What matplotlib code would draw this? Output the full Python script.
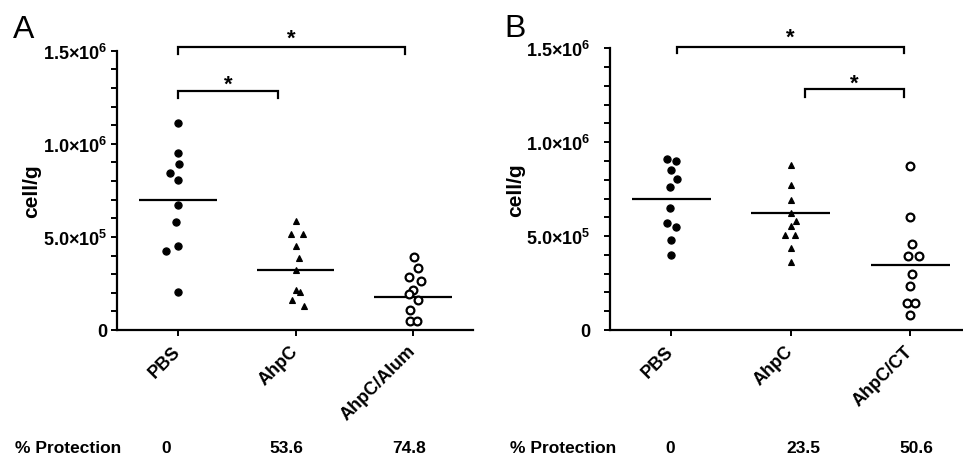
import matplotlib
matplotlib.use("Agg")
import matplotlib.pyplot as plt
from matplotlib.ticker import MultipleLocator, FixedLocator
import numpy as np

plt.rcParams['font.family'] = ['Liberation Sans', 'DejaVu Sans']
plt.rcParams['font.weight'] = 'bold'
plt.rcParams['mathtext.fontset'] = 'custom'
plt.rcParams['mathtext.rm'] = 'Liberation Sans:bold'
plt.rcParams['mathtext.bf'] = 'Liberation Sans:bold'
plt.rcParams['mathtext.it'] = 'Liberation Sans:bold:italic'

# ---------------- data ----------------
groups_A = ["PBS", "AhpC", "AhpC/Alum"]
groups_B = ["PBS", "AhpC", "AhpC/CT"]

A_pbs = [1.111e6, 0.953e6, 0.892e6, 0.842e6, 0.803e6, 0.670e6, 0.581e6, 0.452e6, 0.423e6, 0.203e6]
A_ahpc = [0.587e6, 0.517e6, 0.517e6, 0.449e6, 0.387e6, 0.324e6, 0.215e6, 0.203e6, 0.160e6, 0.129e6]
A_alum = [0.390e6, 0.331e6, 0.283e6, 0.265e6, 0.215e6, 0.195e6, 0.161e6, 0.109e6, 0.048e6, 0.048e6]
A_means = [0.699e6, 0.324e6, 0.177e6]

B_pbs = [0.909e6, 0.898e6, 0.852e6, 0.806e6, 0.760e6, 0.651e6, 0.568e6, 0.550e6, 0.479e6, 0.401e6]
B_ahpc = [0.879e6, 0.774e6, 0.694e6, 0.621e6, 0.579e6, 0.554e6, 0.506e6, 0.506e6, 0.435e6, 0.364e6]
B_ct = [0.872e6, 0.600e6, 0.458e6, 0.394e6, 0.394e6, 0.300e6, 0.233e6, 0.145e6, 0.145e6, 0.078e6]
B_means = [0.698e6, 0.623e6, 0.346e6]

protection_A = ["0", "53.6", "74.8"]
protection_B = ["0", "23.5", "50.6"]

ytick_vals = [0, 5e5, 1e6, 1.5e6]
ytick_labels = ["0", r"$5.0{\times}10^{5}$", r"$1.0{\times}10^{6}$", r"$1.5{\times}10^{6}$"]

# horizontal scatter offsets (jitter)
jit_A = [
    [0, 0, 0.01, -0.065, 0, 0, -0.02, 0, -0.10, 0],
    [0, -0.037, 0.065, 0, 0.028, 0, 0, 0.037, -0.034, 0.071],
    [0.006, 0.045, -0.037, 0.065, 0, -0.031, 0.04, -0.028, -0.028, 0.037],
]
jit_B = [
    [-0.036, 0.042, 0, 0.047, -0.008, -0.008, -0.031, 0.042, 0, 0],
    [0, 0, 0, 0, 0.047, 0, -0.045, 0.039, 0, 0],
    [0, 0, 0.017, -0.02, 0.072, 0.01, 0, -0.028, 0.036, 0],
]

W, H = 963, 456
fig = plt.figure(figsize=(W / 100, H / 100), dpi=100)

axA = fig.add_axes([117 / W, 1 - 331 / H, 356 / W, 279.3 / H])
axB = fig.add_axes([610 / W, 1 - 331 / H, 353 / W, 281.7 / H])

markers = [
    dict(marker='o', ms=5.2, mfc='black', mec='black', mew=0.8),
    dict(marker='^', ms=5.0, mfc='black', mec='black', mew=0.8),
    dict(marker='o', ms=5.6, mfc='white', mec='black', mew=1.6),
]


def draw_panel(ax, series, jit, means, names, xlim, ypad):
    for i, (vals, jj, mk) in enumerate(zip(series, jit, markers)):
        xs = np.full(len(vals), i + 1.0) + np.array(jj)
        ax.plot(xs, vals, linestyle='none', clip_on=False, zorder=3, **mk)
        ax.plot([i + 1 - 0.33, i + 1 + 0.33], [means[i], means[i]],
                color='black', lw=1.6, zorder=2, solid_capstyle='butt')
    ax.set_xlim(*xlim)
    ax.set_ylim(0, 1.5e6)
    for s in ['top', 'right']:
        ax.spines[s].set_visible(False)
    for s in ['left', 'bottom']:
        ax.spines[s].set_linewidth(1.6)
    ax.yaxis.set_major_locator(FixedLocator(ytick_vals))
    ax.set_yticklabels(ytick_labels, fontsize=13, fontweight='bold')
    ax.yaxis.set_minor_locator(MultipleLocator(1e5))
    ax.tick_params(axis='y', which='both', direction='out', length=4, width=1.4, pad=ypad)
    ax.set_xticks([1, 2, 3])
    ax.set_xticklabels(names, rotation=45, ha='right', va='center',
                       rotation_mode='anchor', fontsize=13, fontweight='bold')
    ax.tick_params(axis='x', direction='out', length=4, width=1.4, pad=9)


def bracket(ax, x1, x2, y, drop, star_y):
    ax.plot([x1, x1, x2, x2], [y - drop, y, y, y - drop], color='black', lw=1.6,
            clip_on=False, solid_joinstyle='miter')
    ax.text((x1 + x2) / 2, star_y, '*', ha='center', va='baseline',
            fontsize=16, fontweight='bold', clip_on=False)


draw_panel(axA, [A_pbs, A_ahpc, A_alum], jit_A, A_means, groups_A, (0.48, 3.51), 3)
draw_panel(axB, [B_pbs, B_ahpc, B_ct], jit_B, B_means, groups_B, (0.49, 3.44), 10)

bracket(axA, 1.0, 2.93, 1.518e6, 0.036e6, 1.538e6)
bracket(axA, 1.0, 1.85, 1.285e6, 0.039e6, 1.288e6)
bracket(axB, 1.05, 2.95, 1.505e6, 0.032e6, 1.532e6)
bracket(axB, 2.12, 2.95, 1.283e6, 0.041e6, 1.283e6)

# y labels
fig.text(32 / W, 1 - 191 / H, "cell/g", rotation=90, ha='center', va='center',
         fontsize=15, fontweight='bold')
fig.text(516 / W, 1 - 190 / H, "cell/g", rotation=90, ha='center', va='center',
         fontsize=15, fontweight='bold')

# panel letters
fig.text(13 / W, 1 - 38 / H, "A", fontsize=23, fontweight='normal', ha='left', va='baseline')
fig.text(504 / W, 1 - 37 / H, "B", fontsize=23, fontweight='normal', ha='left', va='baseline')

# protection row
base = 1 - 453 / H
fig.text(15 / W, base, "% Protection", fontsize=12.5, fontweight='bold', ha='left', va='baseline')
for xp, t in zip([166, 286, 409], protection_A):
    fig.text(xp / W, base, t, fontsize=12.5, fontweight='bold', ha='center', va='baseline')
fig.text(510 / W, base, "% Protection", fontsize=12.5, fontweight='bold', ha='left', va='baseline')
for xp, t in zip([670, 803, 916], protection_B):
    fig.text(xp / W, base, t, fontsize=12.5, fontweight='bold', ha='center', va='baseline')

fig.savefig("out.png", dpi=100)
